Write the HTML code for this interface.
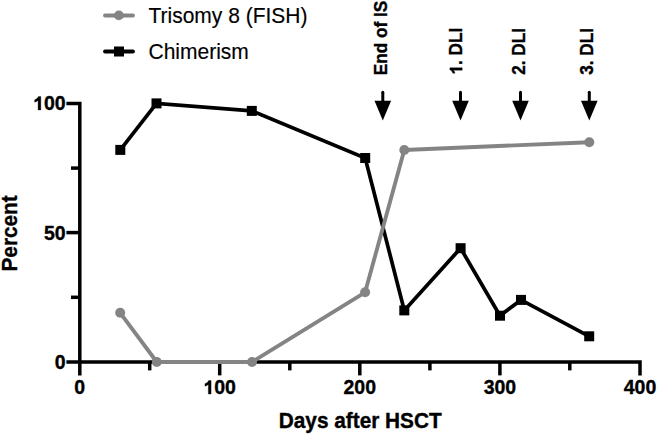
<!DOCTYPE html>
<html><head><meta charset="utf-8">
<style>
html,body{margin:0;padding:0;background:#fff;}
body{width:657px;height:434px;overflow:hidden;}
svg{display:block;}
text{font-family:"Liberation Sans",sans-serif;}
.b{font-weight:bold;stroke:#000;stroke-width:0.35px;}
.r{stroke:#000;stroke-width:0.15px;}
</style></head>
<body>
<svg width="657" height="434" viewBox="0 0 657 434">
<defs><path id="one" d="M392 0H252V490C205 448 145 420 78 402V525C168 553 228 605 270 690H392Z"/></defs>
<rect width="657" height="434" fill="#fff"/>
<!-- axes -->
<g stroke="#000" stroke-width="3.5" fill="none" stroke-linecap="butt">
  <path d="M66.4 103.4 H79.8 V375.4" stroke-linejoin="miter"/>
  <path d="M66.4 361.9 H640 V375.4" stroke-linejoin="miter"/>
  <path d="M66.4 232.6 H79.8"/>
  <path d="M71 168.1 H79.8"/>
  <path d="M71 297.3 H79.8"/>
  <path d="M219.7 361.9 V375.4"/>
  <path d="M359.8 361.9 V375.4"/>
  <path d="M499.9 361.9 V375.4"/>
  <path d="M149.7 361.9 V370.4"/>
  <path d="M289.8 361.9 V370.4"/>
  <path d="M429.9 361.9 V370.4"/>
  <path d="M569.8 361.9 V370.4"/>
</g>
<!-- y tick labels -->
<g class="b" font-size="19.5" text-anchor="end" fill="#000">
  <use href="#one" style="stroke-width:18px" transform="translate(33.174 110) scale(0.0195 -0.0195)"/><text x="65.7" y="110">00</text>
  <text x="65.7" y="239.5">50</text>
  <text x="65.7" y="369">0</text>
</g>
<!-- x tick labels -->
<g class="b" font-size="19.5" text-anchor="middle" fill="#000">
  <text x="79.6" y="394">0</text>
  <use href="#one" style="stroke-width:18px" transform="translate(203.437 394) scale(0.0195 -0.0195)"/><text x="214.279" y="394" text-anchor="start">00</text>
  <text x="359.8" y="394">200</text>
  <text x="499.9" y="394">300</text>
  <text x="640" y="394">400</text>
</g>
<!-- axis titles -->
<g transform="translate(360.2 427.6) scale(1 1.08)"><text class="b" font-size="20.8" text-anchor="middle">Days after HSCT</text></g>
<g transform="translate(17.2 233.4) rotate(-90) scale(1 1.08)"><text class="b" font-size="20.8" text-anchor="middle">Percent</text></g>
<!-- chimerism -->
<polyline fill="none" stroke="#000" stroke-width="3.7" stroke-linejoin="miter"
  points="120.3,149.9 156.5,103.4 251.8,110.9 365.2,158 404.3,310.4 460.6,248.2 500,315.7 521,299.9 589.2,336.3"/>
<g fill="#000">
  <rect x="115.3" y="144.9" width="10" height="10"/>
  <rect x="151.5" y="98.4" width="10" height="10"/>
  <rect x="246.8" y="105.9" width="10" height="10"/>
  <rect x="360.2" y="153" width="10" height="10"/>
  <rect x="399.3" y="305.4" width="10" height="10"/>
  <rect x="455.6" y="243.2" width="10" height="10"/>
  <rect x="495" y="310.7" width="10" height="10"/>
  <rect x="516" y="294.9" width="10" height="10"/>
  <rect x="584.2" y="331.3" width="10" height="10"/>
</g>
<!-- trisomy -->
<polyline fill="none" stroke="#848484" stroke-width="3.9" stroke-linejoin="round"
  points="120.2,312.8 156.8,362 252,362 365.1,292.3 404.3,150 589.3,142.2"/>
<g fill="#848484">
  <circle cx="120.2" cy="312.8" r="5"/>
  <circle cx="156.8" cy="362" r="5"/>
  <circle cx="252" cy="362" r="5"/>
  <circle cx="365.1" cy="292.3" r="5"/>
  <circle cx="404.3" cy="150" r="5"/>
  <circle cx="589.3" cy="142.2" r="5"/>
</g>
<!-- arrows -->
<g fill="#000" stroke="#000">
  <g transform="translate(382.8 0)"><path d="M0 92.3 V102" stroke-width="3" stroke-linecap="round" fill="none"/><path d="M-8.3 100.8 H8.3 L0 120.4 Z" stroke="none"/></g>
  <g transform="translate(460.5 0)"><path d="M0 92.3 V102" stroke-width="3" stroke-linecap="round" fill="none"/><path d="M-8.3 100.8 H8.3 L0 120.4 Z" stroke="none"/></g>
  <g transform="translate(520.5 0)"><path d="M0 92.3 V102" stroke-width="3" stroke-linecap="round" fill="none"/><path d="M-8.3 100.8 H8.3 L0 120.4 Z" stroke="none"/></g>
  <g transform="translate(589.3 0)"><path d="M0 92.3 V102" stroke-width="3" stroke-linecap="round" fill="none"/><path d="M-8.3 100.8 H8.3 L0 120.4 Z" stroke="none"/></g>
</g>
<!-- arrow labels -->
<g class="b" font-size="17.2" fill="#000" text-anchor="start">
  <text transform="translate(387.2 75.3) rotate(-90) scale(1 1.04)">End of IS</text>
  <g transform="translate(462.2 74.5) rotate(-90) scale(1 1.04)"><use href="#one" style="stroke-width:20px" transform="scale(0.0172 -0.0172)"/><text x="9.563">. DLI</text></g>
  <text transform="translate(525.2 74.8) rotate(-90) scale(1 1.04)">2. DLI</text>
  <text transform="translate(592.6 74.8) rotate(-90) scale(1 1.04)">3. DLI</text>
</g>
<!-- legend -->
<path d="M105 15.5 H133" stroke="#848484" stroke-width="3.8" stroke-linecap="round"/>
<circle cx="118.9" cy="15.4" r="4.9" fill="#848484"/>
<path d="M105 51.5 H133" stroke="#000" stroke-width="3.8" stroke-linecap="round"/>
<rect x="114" y="46.5" width="10" height="10" fill="#000"/>
<g transform="translate(148.5 22.8) scale(1 1.05)"><text class="r" font-size="21">Trisomy 8 (FISH)</text></g>
<g transform="translate(148.5 58.8) scale(1 1.05)"><text class="r" font-size="21">Chimerism</text></g>
</svg>
</body></html>
